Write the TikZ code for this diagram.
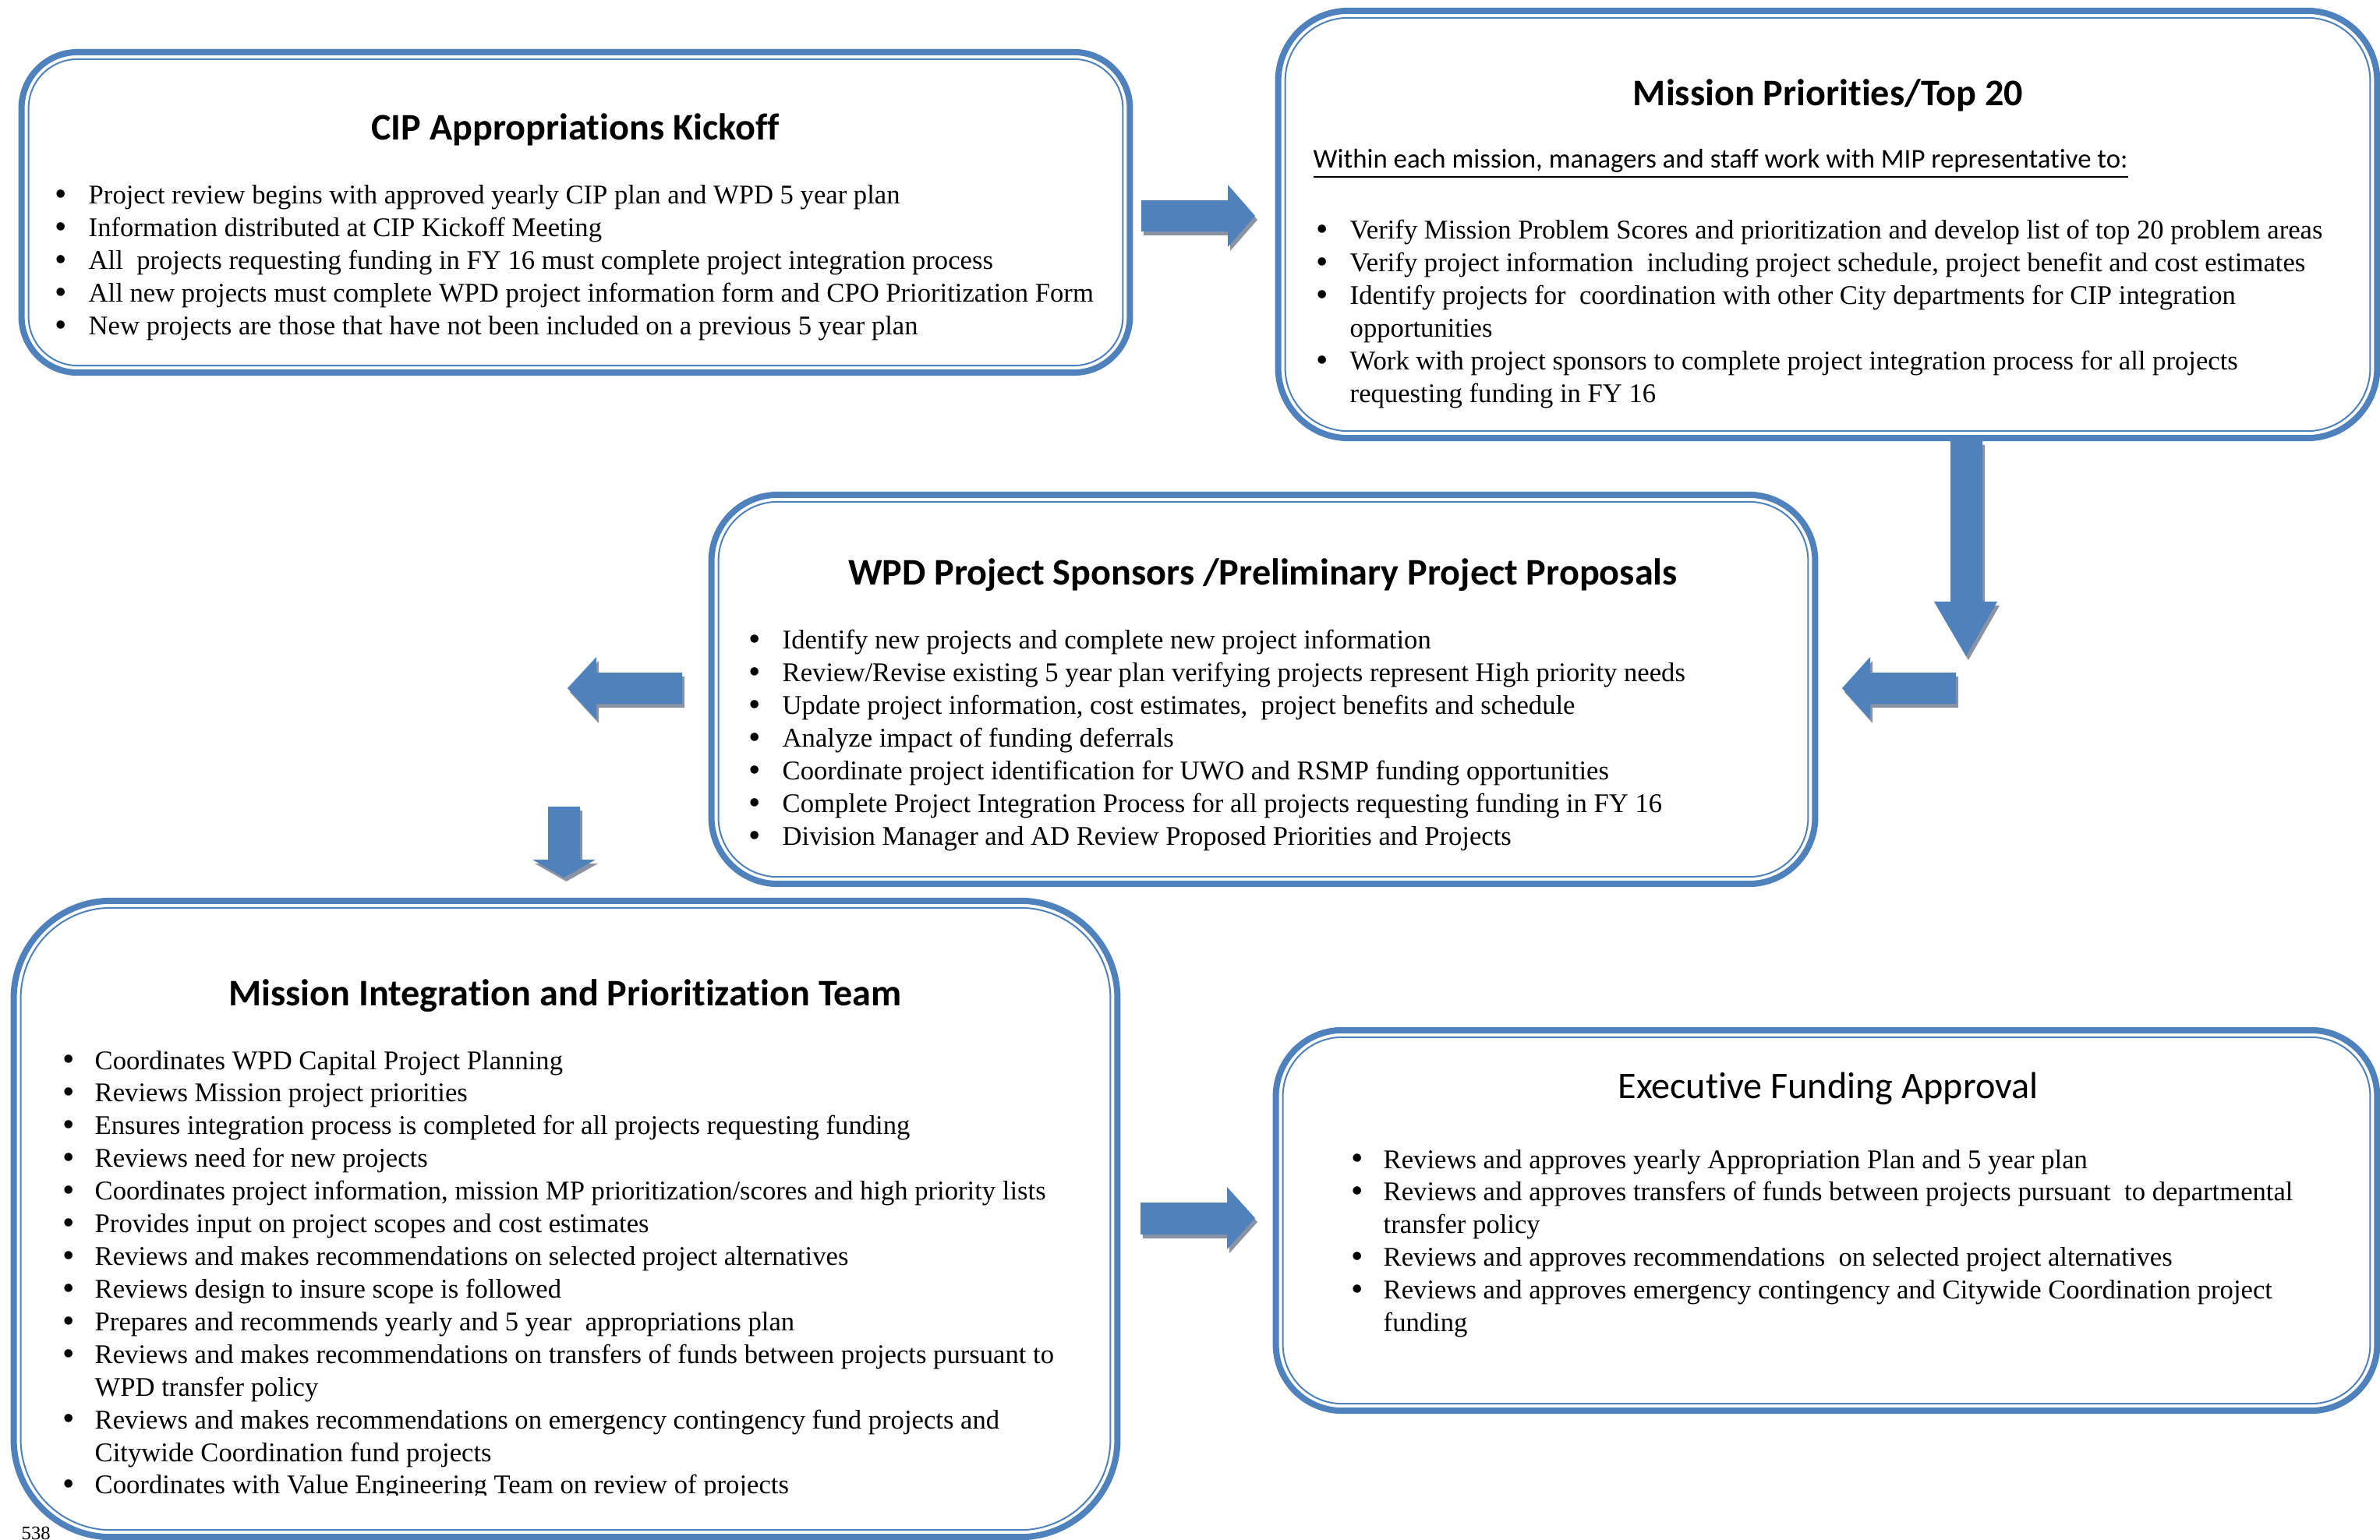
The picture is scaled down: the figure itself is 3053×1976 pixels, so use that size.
\documentclass[tikz,border=0pt]{standalone}
\usepackage{fontspec}
\usepackage{tikz}
\usetikzlibrary{calc}
\setmainfont{Liberation Serif}
\newfontfamily\headfont[Ligatures=NoCommon]{Carlito}
\definecolor{officeblue}{RGB}{79,129,189}
\definecolor{shadowgray}{RGB}{138,147,163}

% block arrow with its grey shadow
\newcommand{\blockarrow}[1]{%
  \fill[shadowgray,shift={(3,5)}] #1;
  \fill[officeblue] #1;}
% list bullet, a little larger than the text
\newcommand{\listdot}{\raisebox{-0.5pt}{\fontsize{12.5}{12}\selectfont\textbullet}}

\tikzset{
  panel/.style={draw=officeblue, line width=0.08cm, rounded corners=#1, outer sep=0pt, inner sep=0pt},
  panelrule/.style={draw=officeblue, line width=0.02cm, rounded corners=#1},
  boxtitle/.style={font=\headfont\bfseries\fontsize{13.7}{16}\selectfont, anchor=base, inner sep=0pt},
  bulletlist/.style={font=\fontsize{9.85}{11.92}\selectfont, anchor=base west, inner sep=0pt},
}

\begin{document}
\begin{tikzpicture}[x=0.01cm,y=-0.01cm]
\useasboundingbox (0,0) rectangle (3053,1976);

% the five panels
\node[panel=0.72cm, minimum width=14.21cm, minimum height=4.11cm] (kickoff) at (738.5,272.5) {};
\node[panel=0.90cm, minimum width=14.09cm, minimum height=5.48cm] (top20) at (2344.5,288) {};
\node[panel=0.85cm, minimum width=14.15cm, minimum height=4.99cm] (sponsors) at (1620.5,884.5) {};
\node[panel=1.25cm, minimum width=14.15cm, minimum height=8.16cm] (team) at (725.5,1564) {};
\node[panel=0.85cm, minimum width=14.12cm, minimum height=4.88cm] (approval) at (2343,1566) {};
\draw[panelrule=0.63cm] ($(kickoff.north west)+(9,9)$) rectangle ($(kickoff.south east)-(9,9)$);
\draw[panelrule=0.81cm] ($(top20.north west)+(9,9)$) rectangle ($(top20.south east)-(9,9)$);
\draw[panelrule=0.76cm] ($(sponsors.north west)+(9,9)$) rectangle ($(sponsors.south east)-(9,9)$);
\draw[panelrule=1.16cm] ($(team.north west)+(9,9)$) rectangle ($(team.south east)-(9,9)$);
\draw[panelrule=0.76cm] ($(approval.north west)+(9,9)$) rectangle ($(approval.south east)-(9,9)$);

% titles
\node[boxtitle] (kickoff-title) at (738,180) {CIP Appropriations Kickoff};
\node[boxtitle] (top20-title) at (2345,136) {Mission Priorities/Top 20};
\node[boxtitle] (sponsors-title) at (1620,751) {WPD Project Sponsors /Preliminary Project Proposals};
\node[boxtitle] (team-title) at (725,1290) {Mission Integration and Prioritization Team};
\node[boxtitle, font=\headfont\fontsize{13.7}{16}\selectfont] (approval-title) at (2345,1409) {Executive Funding Approval};
\node[anchor=base west, inner sep=0pt, font=\headfont\fontsize{9.9}{12}\selectfont] (top20-lead) at (1684,216)
  {\underline{Within each mission, managers and staff work with MIP representative to:}};

% bullet lists
\node[bulletlist] (kickoff-list) at (70,262) {\begin{tabular}[t]{@{}p{0.43cm}@{}l@{}}
\listdot & Project review begins with approved yearly CIP plan and WPD 5 year plan\\
\listdot & Information distributed at CIP Kickoff Meeting\\
\listdot & All~ projects requesting funding in FY 16 must complete project integration process\\
\listdot & All new projects must complete WPD project information form and CPO Prioritization Form\\
\listdot & New projects are those that have not been included on a previous 5 year plan
\end{tabular}};
\node[bulletlist] (top20-list) at (1688,307) {\begin{tabular}[t]{@{}p{0.43cm}@{}l@{}}
\listdot & Verify Mission Problem Scores and prioritization and develop list of top 20 problem areas\\
\listdot & Verify project information~ including project schedule, project benefit and cost estimates\\
\listdot & Identify projects for~ coordination with other City departments for CIP integration\\
 & opportunities\\
\listdot & Work with project sponsors to complete project integration process for all projects\\
 & requesting funding in FY 16
\end{tabular}};
\node[bulletlist] (sponsors-list) at (960,833) {\begin{tabular}[t]{@{}p{0.43cm}@{}l@{}}
\listdot & Identify new projects and complete new project information\\
\listdot & Review/Revise existing 5 year plan verifying projects represent High priority needs\\
\listdot & Update project information, cost estimates,~ project benefits and schedule\\
\listdot & Analyze impact of funding deferrals\\
\listdot & Coordinate project identification for UWO and RSMP funding opportunities\\
\listdot & Complete Project Integration Process for all projects requesting funding in FY 16\\
\listdot & Division Manager and AD Review Proposed Priorities and Projects
\end{tabular}};
\begin{scope}
\clip (0,0) rectangle (3053,1918);
\node[bulletlist] (team-list) at (80,1372) {\begin{tabular}[t]{@{}p{0.41cm}@{}l@{}}
\listdot & Coordinates WPD Capital Project Planning\\
\listdot & Reviews Mission project priorities\\
\listdot & Ensures integration process is completed for all projects requesting funding\\
\listdot & Reviews need for new projects\\
\listdot & Coordinates project information, mission MP prioritization/scores and high priority lists\\
\listdot & Provides input on project scopes and cost estimates\\
\listdot & Reviews and makes recommendations on selected project alternatives\\
\listdot & Reviews design to insure scope is followed\\
\listdot & Prepares and recommends yearly and 5 year~ appropriations plan\\
\listdot & Reviews and makes recommendations on transfers of funds between projects pursuant to\\
 & WPD transfer policy\\
\listdot & Reviews and makes recommendations on emergency contingency fund projects and\\
 & Citywide Coordination fund projects\\
\listdot & Coordinates with Value Engineering Team on review of projects
\end{tabular}};
\end{scope}
\node[bulletlist] (approval-list) at (1733,1499) {\begin{tabular}[t]{@{}p{0.41cm}@{}l@{}}
\listdot & Reviews and approves yearly Appropriation Plan and 5 year plan\\
\listdot & Reviews and approves transfers of funds between projects pursuant~ to departmental\\
 & transfer policy\\
\listdot & Reviews and approves recommendations~ on selected project alternatives\\
\listdot & Reviews and approves emergency contingency and Citywide Coordination project\\
 & funding
\end{tabular}};

\node[anchor=south west, inner sep=0pt, font=\fontsize{7}{8}\selectfont] (pageno) at (27,1976) {538};

% arrows between the panels
\blockarrow{(1464,257) -- (1575,257) -- (1575,237) -- (1610,277) -- (1575,317) -- (1575,297) -- (1464,297) -- cycle}
\blockarrow{(2502,566) -- (2543,566) -- (2543,772) -- (2562,772) -- (2522,842) -- (2481,772) -- (2502,772) -- cycle}
\blockarrow{(2509,863) -- (2399,863) -- (2399,843) -- (2363,883) -- (2399,923) -- (2399,903) -- (2509,903) -- cycle}
\blockarrow{(875,863) -- (765,863) -- (765,843) -- (728,883) -- (765,923) -- (765,903) -- (875,903) -- cycle}
\blockarrow{(703,1035) -- (744,1035) -- (744,1103) -- (764,1103) -- (723.5,1126) -- (683,1103) -- (703,1103) -- cycle}
\blockarrow{(1463,1543) -- (1574,1543) -- (1574,1523) -- (1610,1563) -- (1574,1603) -- (1574,1584) -- (1463,1584) -- cycle}
\end{tikzpicture}
\end{document}
